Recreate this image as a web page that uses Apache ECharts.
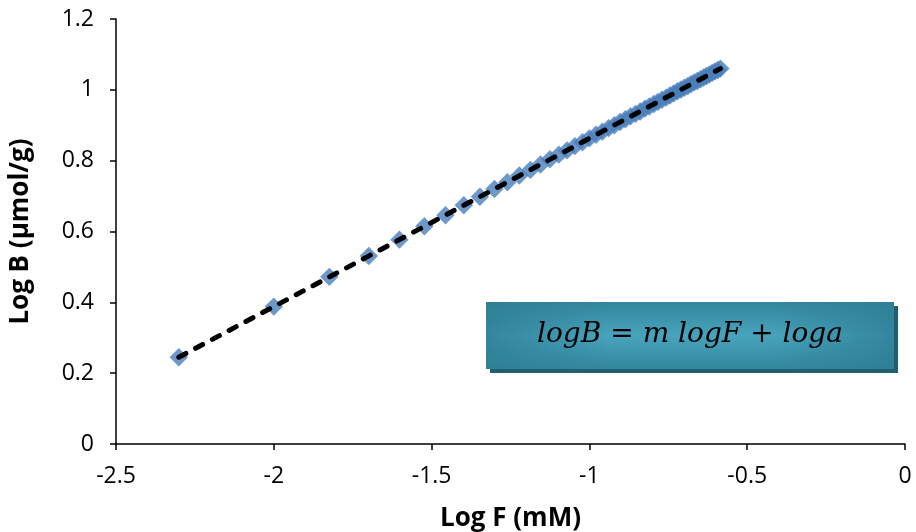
<!DOCTYPE html>
<html><head><meta charset="utf-8">
<script src="https://cdn.jsdelivr.net/npm/echarts@6/dist/echarts.min.js"></script>
<style>html,body{margin:0;padding:0;background:#fff}#c{width:916px;height:532px}</style>
</head><body><div id="c"></div>
<script>
const logF = [-2.301,-2.000,-1.824,-1.699,-1.602,-1.523,-1.456,-1.398,-1.347,-1.301,-1.260,-1.222,-1.187,-1.155,-1.125,-1.097,-1.071,-1.046,-1.022,-1.000,-0.979,-0.959,-0.939,-0.921,-0.903,-0.886,-0.870,-0.854,-0.839,-0.824,-0.810,-0.796,-0.783,-0.770,-0.757,-0.745,-0.733,-0.721,-0.710,-0.699,-0.688,-0.678,-0.668,-0.658,-0.648,-0.638,-0.629,-0.620,-0.611,-0.602,-0.593,-0.585];
const logB = [0.245,0.388,0.472,0.531,0.577,0.615,0.646,0.674,0.698,0.720,0.739,0.758,0.774,0.789,0.804,0.817,0.829,0.841,0.852,0.863,0.873,0.882,0.892,0.900,0.909,0.917,0.925,0.932,0.939,0.947,0.953,0.960,0.966,0.972,0.978,0.984,0.990,0.996,1.001,1.006,1.011,1.016,1.021,1.025,1.030,1.035,1.039,1.043,1.048,1.052,1.056,1.060];
const trendX = [-2.301,-0.585];
const trendY = [0.245,1.060];
const xTitle = 'Log F (mM)';
const yTitle = 'Log B (µmol/g)';
const equation = 'logB = m logF + loga';

const chart = echarts.init(document.getElementById('c'));
const font = 'Open Sans';
chart.setOption({
  animation:false,
  backgroundColor:'#fff',
  grid:{left:116,right:11,top:19,bottom:88,containLabel:false,outerBoundsMode:'none'},
  xAxis:{type:'value',min:-2.5,max:0,interval:0.5,
    axisLine:{onZero:false,lineStyle:{color:'#000',width:1.5}},
    axisTick:{show:true,length:6,lineStyle:{color:'#000',width:1.5}},
    splitLine:{show:false},
    axisLabel:{color:'#000',fontFamily:font,fontSize:23,margin:21},
    name:xTitle,nameLocation:'middle',nameGap:62,
    nameTextStyle:{color:'#000',fontFamily:font,fontSize:26,fontWeight:'bold'}},
  yAxis:{type:'value',min:0,max:1.2,interval:0.2,
    axisLine:{show:true,onZero:false,lineStyle:{color:'#000',width:1.5}},
    axisTick:{show:true,length:6,lineStyle:{color:'#000',width:1.5}},
    splitLine:{show:false},
    axisLabel:{color:'#000',fontFamily:font,fontSize:23,margin:22},
    name:yTitle,nameLocation:'middle',nameGap:82,
    nameTextStyle:{color:'#000',fontFamily:font,fontSize:26,fontWeight:'bold'}},
  series:[
    {type:'scatter',data:logF.map((x,i)=>[x,logB[i]]),symbol:'rect',symbolRotate:45,symbolSize:13,
     itemStyle:{color:'#4a7ebb'},z:2},
    {type:'line',data:trendX.map((x,i)=>[x,trendY[i]]),symbol:'none',
     lineStyle:{color:'#000',width:5,type:[8,11],cap:'round'},z:3}
  ],
  graphic:[
    {type:'rect',shape:{x:490,y:306,width:408,height:67},style:{fill:'#215f70'},z:10},
    {type:'rect',shape:{x:486,y:302,width:408,height:67},
     style:{fill:{type:'linear',x:0,y:0,x2:0,y2:1,colorStops:[{offset:0,color:'#32869d'},{offset:0.5,color:'#47a4bc'},{offset:1,color:'#32869d'}]}},z:11},
    {type:'rect',shape:{x:486,y:302,width:408,height:67},
     style:{fill:{type:'linear',x:0,y:0,x2:1,y2:0,colorStops:[{offset:0,color:'rgba(46,126,149,0.8)'},{offset:0.3,color:'rgba(46,126,149,0)'},{offset:0.7,color:'rgba(46,126,149,0)'},{offset:1,color:'rgba(46,126,149,0.8)'}]}},z:11},
    {type:'text',x:690,y:335,z:12,style:{text:equation,fontFamily:'DejaVu Serif',fontStyle:'italic',fontSize:28,fill:'#000',align:'center',verticalAlign:'middle'}}
  ]
});
</script></body></html>
